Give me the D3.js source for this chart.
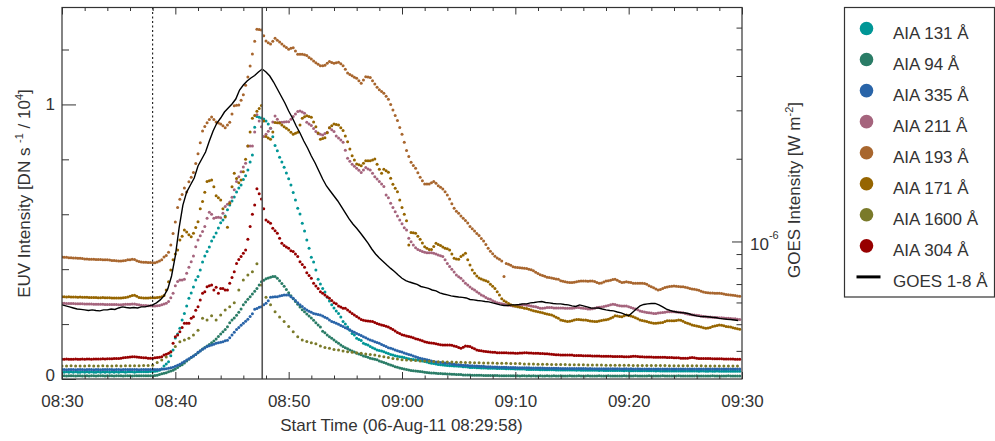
<!DOCTYPE html>
<html><head><meta charset="utf-8">
<script src="https://cdn.jsdelivr.net/npm/d3@7"></script>
<style>
body{margin:0;background:#fff}
svg{display:block}
text{font-family:"Liberation Sans",Arial,Helvetica,sans-serif;fill:#333}
</style>
</head><body>
<svg id="c" width="995" height="441"></svg>
<script>
// ---------------- DATA (EUV in units of 1e4 DN/s, 12 s cadence from 08:30) ----------------
const aia131 = [
.026,.025,.026,.025,.026,.025,.026,.025,.025,.026,
.025,.026,.025,.026,.025,.025,.026,.025,.026,.025,
.026,.025,.026,.025,.026,.025,.026,.026,.025,.026,
.026,.026,.025,.026,.026,.026,.026,.026,.026,.027,
.027,.028,.029,.032,.036,.047,.055,.063,.085,.106,
.149,.164,.185,.215,.239,.266,.294,.313,.335,.361,
.373,.397,.426,.448,.464,.481,.503,.517,.532,.550,
.569,.579,.594,.616,.634,.648,.663,.681,.696,.707,
.727,.740,.761,.790,.816,.917,.956,.953,.951,.947,
.940,.929,.913,.882,.850,.831,.808,.790,.771,.750,
.729,.707,.679,.652,.622,.601,.567,.539,.506,.476,
.443,.426,.397,.363,.346,.330,.317,.298,.284,.270,
.259,.248,.239,.226,.209,.200,.189,.178,.166,.160,
.148,.144,.140,.130,.127,.124,.118,.114,.110,.106,
.104,.102,.099,.096,.093,.089,.087,.085,.083,.081,
.080,.078,.076,.074,.072,.071,.070,.069,.067,.066,
.064,.062,.059,.057,.056,.055,.053,.052,.051,.050,
.049,.048,.048,.047,.047,.046,.046,.045,.045,.044,
.042,.042,.042,.041,.041,.040,.040,.040,.039,.039,
.039,.039,.038,.038,.038,.038,.037,.037,.037,.037,
.036,.036,.036,.036,.036,.035,.035,.035,.035,.035,
.035,.034,.034,.034,.034,.034,.034,.034,.033,.033,
.033,.033,.033,.033,.033,.033,.033,.032,.033,.032,
.032,.032,.032,.032,.032,.032,.032,.031,.032,.031,
.031,.031,.031,.031,.031,.031,.031,.031,.030,.031,
.030,.030,.030,.030,.030,.030,.030,.030,.030,.030,
.030,.030,.029,.030,.029,.029,.029,.029,.029,.029,
.029,.029,.029,.029,.029,.029,.029,.029,.029,.029,
.029,.028,.029,.029,.028,.028,.029,.028,.028,.029,
.028,.028,.028,.028,.028,.028,.028,.028,.028,.028];

const aia94 = [
.012,.012,.011,.012,.012,.012,.011,.012,.012,.011,
.012,.012,.011,.012,.012,.011,.012,.012,.012,.011,
.012,.012,.012,.011,.012,.012,.012,.011,.012,.012,
.012,.011,.012,.012,.012,.012,.012,.012,.012,.012,
.012,.013,.014,.016,.019,.021,.023,.026,.029,.032,
.036,.042,.048,.052,.058,.066,.072,.078,.084,.089,
.096,.103,.109,.115,.120,.126,.132,.138,.146,.155,
.164,.172,.180,.190,.205,.215,.222,.232,.243,.255,
.270,.280,.290,.300,.310,.320,.330,.342,.354,.360,
.365,.368,.371,.373,.373,.367,.358,.348,.338,.326,
.314,.303,.292,.282,.272,.262,.252,.245,.237,.229,
.222,.214,.205,.197,.189,.174,.168,.160,.154,.148,
.142,.136,.130,.124,.118,.114,.110,.106,.102,.098,
.094,.091,.088,.084,.082,.079,.076,.074,.072,.070,
.066,.063,.060,.057,.054,.051,.048,.045,.043,.040,
.038,.036,.035,.033,.031,.030,.029,.028,.027,.026,
.025,.024,.023,.022,.022,.021,.020,.020,.019,.019,
.018,.018,.017,.017,.016,.016,.016,.015,.015,.015,
.015,.014,.014,.014,.014,.014,.013,.013,.013,.013,
.013,.013,.013,.012,.012,.012,.012,.012,.012,.012,
.012,.012,.011,.012,.012,.011,.012,.011,.012,.011,
.011,.012,.011,.011,.012,.011,.011,.012,.011,.011,
.012,.011,.011,.011,.012,.011,.011,.011,.012,.011,
.011,.011,.012,.011,.011,.011,.011,.012,.011,.011,
.011,.012,.011,.011,.011,.011,.011,.011,.012,.011,
.011,.011,.011,.012,.011,.011,.011,.011,.011,.012,
.011,.011,.011,.011,.011,.012,.011,.011,.011,.011,
.011,.011,.012,.011,.011,.011,.011,.011,.011,.011,
.012,.011,.011,.011,.011,.011,.011,.012,.011,.011,
.011,.011,.011,.011,.012,.011,.011,.011,.011,.011];

const aia335 = [
.035,.035,.034,.035,.035,.035,.034,.035,.035,.035,
.034,.035,.035,.035,.034,.035,.035,.034,.035,.035,
.035,.035,.035,.034,.035,.035,.034,.035,.035,.035,
.035,.035,.035,.035,.034,.035,.035,.035,.035,.035,
.035,.035,.035,.035,.036,.036,.037,.039,.041,.043,
.046,.050,.054,.059,.064,.069,.074,.079,.084,.089,
.097,.102,.108,.113,.118,.121,.124,.127,.130,.132,
.134,.136,.139,.141,.150,.160,.170,.180,.188,.196,
.203,.210,.218,.228,.238,.254,.257,.261,.263,.270,
.276,.285,.298,.299,.300,.300,.302,.304,.306,.306,
.306,.300,.294,.286,.278,.270,.264,.257,.251,.247,
.243,.239,.237,.235,.233,.229,.225,.221,.215,.209,
.207,.203,.199,.195,.191,.187,.183,.179,.174,.170,
.166,.162,.158,.154,.150,.146,.142,.139,.136,.133,
.130,.126,.122,.118,.114,.112,.109,.106,.103,.100,
.098,.095,.092,.089,.087,.084,.081,.078,.076,.074,
.072,.070,.068,.066,.064,.062,.061,.060,.059,.058,
.057,.056,.055,.054,.053,.052,.051,.050,.050,.049,
.048,.048,.047,.047,.046,.046,.046,.045,.045,.045,
.044,.044,.044,.043,.043,.043,.043,.042,.042,.042,
.042,.041,.041,.041,.041,.041,.041,.040,.040,.040,
.040,.040,.040,.039,.039,.039,.039,.039,.039,.039,
.038,.038,.038,.038,.038,.038,.038,.038,.038,.038,
.038,.038,.037,.038,.037,.037,.037,.037,.037,.037,
.037,.037,.037,.037,.037,.037,.037,.036,.037,.037,
.036,.037,.036,.036,.037,.036,.036,.036,.036,.036,
.036,.036,.036,.036,.036,.036,.036,.036,.036,.036,
.036,.036,.036,.036,.036,.036,.036,.036,.036,.036,
.036,.036,.036,.036,.036,.036,.036,.036,.036,.036,
.036,.036,.036,.036,.036,.036,.036,.036,.036,.036];

const aia211 = [
.276,.276,.275,.275,.275,.275,.274,.274,.274,.274,
.273,.273,.273,.273,.272,.272,.272,.272,.272,.271,
.271,.271,.271,.271,.271,.270,.270,.271,.272,.272,
.272,.273,.273,.271,.270,.269,.268,.268,.267,.267,
.266,.266,.267,.268,.270,.273,.276,.282,.296,.312,
.340,.355,.361,.361,.363,.385,.407,.427,.448,.482,
.506,.522,.537,.555,.585,.607,.600,.585,.588,.589,
.587,.604,.628,.636,.645,.662,.689,.719,.737,.755,
.772,.786,.849,.849,.849,.900,.962,.940,.919,.883,
.891,.902,.913,.936,.958,.946,.935,.935,.936,.937,
.937,.946,.956,.965,.974,.976,.972,.968,.935,.929,
.923,.912,.901,.893,.891,.889,.894,.899,.915,.908,
.901,.885,.878,.870,.862,.833,.804,.793,.782,.775,
.768,.760,.752,.761,.770,.765,.761,.749,.737,.728,
.719,.710,.701,.670,.660,.640,.625,.609,.594,.579,
.565,.551,.543,.513,.500,.488,.478,.472,.468,.464,
.462,.460,.460,.460,.458,.455,.452,.449,.446,.434,
.421,.410,.400,.390,.379,.372,.367,.358,.349,.342,
.335,.329,.324,.318,.312,.306,.302,.297,.292,.290,
.285,.281,.278,.276,.274,.272,.270,.269,.268,.266,
.267,.268,.269,.270,.270,.269,.268,.266,.264,.263,
.260,.258,.258,.259,.260,.260,.260,.259,.259,.259,
.259,.259,.258,.258,.258,.258,.259,.260,.260,.259,
.258,.257,.255,.255,.256,.258,.260,.261,.262,.264,
.266,.268,.270,.272,.271,.269,.267,.266,.266,.266,
.263,.260,.258,.255,.252,.248,.246,.244,.242,.241,
.240,.239,.239,.240,.241,.242,.243,.245,.245,.245,
.245,.244,.243,.242,.241,.239,.237,.235,.234,.233,
.232,.231,.229,.228,.227,.226,.226,.225,.224,.224,
.223,.223,.222,.221,.221,.220,.219,.219,.218,.217];

const aia193 = [
.444,.443,.443,.442,.442,.441,.441,.440,.440,.439,
.437,.437,.436,.436,.436,.435,.435,.435,.434,.434,
.434,.433,.432,.432,.431,.430,.430,.431,.432,.434,
.434,.436,.435,.431,.428,.426,.425,.425,.424,.424,
.423,.423,.426,.430,.434,.444,.450,.462,.488,.530,
.572,.625,.655,.672,.696,.681,.718,.735,.752,.785,
.820,.860,.903,.920,.933,.945,.954,.945,.936,.932,
.929,.922,.915,.925,.935,.965,.995,.997,.998,1.015,
1.035,1.070,1.100,1.140,1.184,1.230,1.274,1.273,1.271,1.250,
1.231,1.225,1.220,1.230,1.241,1.234,1.227,1.220,1.213,1.207,
1.201,1.205,1.206,1.195,1.183,1.183,1.183,1.181,1.178,1.171,
1.165,1.158,1.152,1.146,1.141,1.141,1.143,1.150,1.156,1.153,
1.150,1.152,1.154,1.148,1.141,1.128,1.114,1.109,1.104,1.099,
1.095,1.086,1.077,1.089,1.101,1.100,1.098,1.086,1.074,1.063,
1.053,1.047,1.041,1.030,1.019,1.000,.980,.960,.941,.916,
.891,.862,.832,.810,.789,.778,.768,.751,.735,.722,
.710,.710,.710,.715,.719,.713,.704,.698,.692,.682,
.670,.656,.638,.622,.611,.604,.594,.585,.577,.568,
.555,.547,.539,.530,.523,.512,.503,.490,.476,.465,
.456,.447,.441,.436,.430,.373,.421,.418,.414,.409,
.407,.406,.405,.404,.403,.402,.400,.398,.394,.389,
.384,.380,.377,.374,.371,.370,.368,.366,.364,.363,
.358,.356,.354,.352,.351,.351,.352,.354,.356,.357,
.357,.357,.356,.357,.357,.355,.351,.349,.350,.353,
.357,.358,.360,.362,.363,.360,.355,.351,.352,.354,
.352,.351,.349,.349,.349,.349,.349,.348,.345,.340,
.336,.332,.328,.324,.326,.330,.333,.335,.337,.338,
.339,.338,.337,.336,.336,.334,.332,.330,.328,.327,
.325,.323,.320,.317,.315,.314,.313,.313,.312,.312,
.312,.311,.310,.308,.307,.306,.305,.304,.302,.301];

const aia171 = [
.300,.300,.299,.300,.299,.299,.299,.298,.299,.298,
.298,.298,.297,.297,.297,.297,.296,.296,.297,.296,
.296,.296,.295,.295,.295,.295,.295,.296,.297,.299,
.301,.304,.305,.301,.297,.296,.295,.295,.295,.296,
.296,.296,.297,.298,.300,.304,.324,.354,.397,.434,
.455,.470,.506,.520,.543,.535,.525,.518,.531,.552,
.573,.620,.646,.680,.719,.722,.725,.700,.667,.660,
.652,.620,.590,.553,.640,.700,.749,.730,.715,.725,
.755,.800,.849,.900,.950,.960,.975,.985,.996,.940,
.883,.878,.873,.900,.934,.933,.932,.925,.919,.913,
.907,.899,.891,.895,.899,.925,.950,.955,.959,.956,
.953,.936,.919,.896,.873,.876,.879,.897,.915,.922,
.929,.927,.925,.915,.905,.885,.864,.838,.813,.798,
.783,.780,.777,.786,.795,.795,.795,.798,.801,.782,
.764,.749,.764,.758,.753,.731,.709,.695,.682,.652,
.625,.600,.576,.488,.534,.533,.531,.520,.509,.495,
.482,.476,.472,.472,.483,.494,.490,.486,.481,.476,
.474,.470,.455,.440,.437,.436,.446,.452,.458,.434,
.415,.397,.385,.375,.368,.364,.361,.358,.354,.345,
.338,.330,.318,.306,.292,.285,.280,.275,.270,.268,
.265,.263,.261,.260,.258,.257,.254,.251,.249,.247,
.245,.243,.241,.239,.237,.235,.233,.229,.225,.221,
.215,.213,.211,.209,.210,.212,.215,.217,.217,.216,
.215,.215,.213,.211,.210,.209,.209,.211,.213,.215,
.216,.218,.221,.225,.230,.229,.228,.227,.230,.233,
.231,.229,.227,.223,.219,.215,.213,.211,.209,.207,
.205,.203,.203,.204,.205,.206,.209,.212,.212,.212,
.212,.213,.215,.214,.210,.206,.203,.200,.197,.195,
.193,.191,.189,.187,.185,.186,.188,.191,.193,.195,
.197,.196,.194,.191,.190,.189,.187,.185,.183,.181];

// AIA 1600, 24 s cadence
const aia1600 = [
.047,.047,.048,.047,.047,.047,.048,.047,.047,.048,
.047,.047,.048,.047,.048,.048,.048,.048,.049,.049,
.050,.060,.069,.080,.098,.118,.136,.142,.148,.160,
.178,.221,.215,.230,.215,.233,.251,.263,.278,.324,
.361,.379,.391,.420,.342,.298,.270,.245,.226,.209,
.191,.172,.154,.142,.137,.132,.128,.120,.115,.112,
.107,.106,.102,.099,.097,.096,.094,.091,.089,.087,
.084,.081,.078,.075,.073,.070,.069,.068,.067,.066,
.066,.065,.064,.063,.063,.062,.062,.061,.061,.060,
.060,.059,.059,.058,.058,.058,.057,.057,.057,.056,
.056,.056,.055,.055,.055,.054,.054,.054,.053,.053,
.053,.053,.052,.052,.052,.052,.051,.051,.051,.051,
.050,.050,.050,.050,.050,.050,.049,.049,.049,.049,
.049,.049,.049,.049,.048,.048,.048,.048,.048,.048,
.048,.048,.047,.047,.047,.047,.047,.047,.047,.047];

const aia304 = [
.072,.072,.073,.072,.072,.072,.073,.072,.072,.073,
.072,.073,.073,.072,.073,.073,.073,.073,.074,.073,
.074,.074,.074,.075,.075,.075,.076,.077,.078,.079,
.080,.081,.081,.080,.079,.078,.077,.077,.076,.076,
.076,.077,.078,.079,.081,.087,.090,.094,.099,.130,
.154,.160,.172,.188,.203,.203,.203,.221,.227,.250,
.263,.288,.312,.318,.336,.340,.342,.324,.334,.312,
.330,.330,.324,.324,.349,.370,.391,.421,.435,.446,
.458,.470,.509,.555,.600,.634,.693,.675,.656,.620,
.579,.573,.567,.549,.540,.531,.513,.494,.486,.481,
.476,.467,.464,.455,.446,.427,.417,.407,.387,.377,
.367,.349,.339,.330,.318,.312,.306,.300,.294,.286,
.278,.274,.266,.262,.258,.258,.251,.245,.239,.233,
.228,.222,.217,.214,.212,.211,.210,.209,.206,.202,
.199,.197,.195,.192,.189,.185,.180,.175,.169,.166,
.161,.159,.157,.155,.153,.150,.147,.145,.142,.139,
.136,.134,.132,.131,.130,.128,.127,.125,.124,.124,
.124,.124,.123,.120,.118,.115,.112,.116,.120,.119,
.118,.114,.110,.106,.104,.103,.101,.100,.099,.098,
.097,.097,.096,.096,.096,.096,.096,.095,.095,.095,
.094,.094,.095,.095,.096,.096,.095,.095,.094,.094,
.094,.093,.093,.092,.092,.091,.090,.089,.088,.088,
.087,.087,.087,.087,.087,.087,.086,.086,.086,.086,
.085,.085,.085,.085,.084,.084,.084,.084,.083,.083,
.083,.083,.083,.082,.082,.082,.082,.082,.081,.081,
.081,.082,.083,.083,.082,.081,.081,.080,.080,.080,
.080,.079,.079,.079,.079,.079,.079,.078,.078,.078,
.077,.077,.077,.076,.076,.076,.076,.077,.078,.077,
.076,.075,.075,.075,.075,.075,.075,.074,.074,.074,
.074,.074,.073,.073,.073,.073,.073,.072,.072,.072];

// GOES 1-8 A flux in units of 1e-7 W m^-2, 20 s cadence from 08:30
const goesE7 = [
5.88,5.83,5.78,5.73,5.68,5.66,5.64,5.61,5.64,5.61,
5.59,5.64,5.64,5.68,5.66,5.73,5.78,5.75,5.73,5.75,
5.73,5.78,5.78,5.83,5.88,5.98,6.13,6.34,6.72,7.49,
8.86,11.20,13.57,15.13,16.05,17.02,18.82,19.96,21.16,23.20,
25.23,26.98,28.13,29.58,30.59,31.63,32.98,35.56,37.08,38.35,
39.33,40.15,41.35,42.40,41.35,39.99,38.03,35.86,33.82,31.90,
29.82,28.13,26.30,24.81,23.20,21.88,20.46,19.30,18.05,16.87,
15.92,15.26,14.64,14.04,13.35,12.70,12.08,11.58,11.17,10.74,
10.30,9.87,9.39,9.01,8.71,8.46,8.21,7.98,7.78,7.55,
7.35,7.21,7.12,7.05,6.98,6.86,6.81,6.75,6.66,6.61,
6.50,6.44,6.39,6.34,6.31,6.28,6.26,6.23,6.15,6.13,
6.10,6.08,6.05,6.03,5.98,5.93,5.88,5.85,5.85,5.88,
5.88,5.90,5.93,5.93,5.98,6.00,6.03,6.05,6.00,5.98,
5.95,5.93,5.93,5.90,5.88,5.83,5.80,5.88,5.83,5.78,
5.73,5.72,5.73,5.68,5.64,5.61,5.59,5.54,5.50,5.43,
5.37,5.52,5.68,5.83,5.90,5.93,5.95,5.95,5.88,5.78,
5.67,5.61,5.56,5.53,5.51,5.49,5.46,5.40,5.36,5.33,
5.34,5.32,5.30,5.29,5.25,5.23,5.21,5.20,5.18,5.16];

const legendLabels = ["AIA 131 Å","AIA 94 Å","AIA 335 Å","AIA 211 Å","AIA 193 Å","AIA 171 Å","AIA 1600 Å","AIA 304 Å","GOES 1-8 Å"];
const cadences = [12,12,12,12,12,12,24,12]; // seconds
const xTickLabels = ["08:30","08:40","08:50","09:00","09:10","09:20","09:30"];
const yLeftMajor = [0,1];
const yLeftMinor = [0.2,0.4,0.6,0.8,1.2];
const yRightMajor = [1e-6];
const yRightMinor = [4e-7,5e-7,6e-7,7e-7,8e-7,9e-7,2e-6,3e-6,4e-6,5e-6,6e-6];
const markerTimes = {dotted:"08:38:00", solid:"08:47:40"};
const xTitle = "Start Time (06-Aug-11 08:29:58)";
const goesCadence = 20;

// ---------------- STYLE ----------------
const seriesColors = ["#009696","#2a7c66","#2964a8","#a5647d","#a8662e","#966500","#7a7a2a","#970000"];
const euvSeries = [aia131,aia94,aia335,aia211,aia193,aia171,aia1600,aia304];

// ---------------- CHART ----------------
const svg = d3.select("#c");
const L=62, R=742, T=7.5, B=379;
const t0 = Date.UTC(2011,7,6,8,30,0);
const toDate = s => { const p=s.split(":").map(Number); return new Date(Date.UTC(2011,7,6,p[0],p[1],p[2]||0)); };
const x = d3.scaleUtc().domain([new Date(t0), new Date(t0+3600e3)]).range([L,R]);
const yL = d3.scaleLinear().domain([0,1.353]).range([B,T]);
const yR = d3.scaleLog().domain([3.16e-7,7.1e-6]).range([B,T]);

svg.append("defs").append("clipPath").attr("id","clip")
  .append("rect").attr("x",L).attr("y",T).attr("width",R-L).attr("height",B-T);

const plot = svg.append("g").attr("clip-path","url(#clip)");
euvSeries.forEach((arr,k)=>{
  plot.append("g").selectAll("circle").data(arr).join("circle")
    .attr("cx",(d,i)=>x(new Date(t0+i*cadences[k]*1000)))
    .attr("cy",d=>yL(d))
    .attr("r",1.5)
    .attr("fill",seriesColors[k]);
});
plot.append("path").datum(goesE7)
  .attr("fill","none").attr("stroke","#000").attr("stroke-width",1.4)
  .attr("d", d3.line().x((d,i)=>x(new Date(t0+i*goesCadence*1000))).y(d=>yR(d*1e-7)));

// vertical markers
svg.append("line").attr("x1",x(toDate(markerTimes.dotted))).attr("x2",x(toDate(markerTimes.dotted)))
  .attr("y1",T).attr("y2",B).attr("stroke","#000").attr("stroke-width",1).attr("stroke-dasharray","2,2.5");
svg.append("line").attr("x1",x(toDate(markerTimes.solid))).attr("x2",x(toDate(markerTimes.solid)))
  .attr("y1",T).attr("y2",B).attr("stroke","#555").attr("stroke-width",1.6);

// axes
const majorTimes = xTickLabels.map(toDate);
const minorTimes = d3.utcMinute.every(2).range(new Date(t0), new Date(t0+3600e3+1)).filter(d=>d.getUTCMinutes()%10!==0);
function styleAxis(g){ g.select(".domain").remove(); g.attr("color","#333").attr("font-family",null).attr("font-size",17);
  g.selectAll("text").attr("fill","#333"); g.selectAll("line").attr("stroke-width",1); }

svg.append("g").attr("transform",`translate(0,${B})`)
  .call(d3.axisBottom(x).tickValues(majorTimes).tickSize(-7).tickPadding(16).tickFormat(d3.utcFormat("%H:%M"))).call(styleAxis);
svg.append("g").attr("transform",`translate(0,${B})`)
  .call(d3.axisBottom(x).tickValues(minorTimes).tickSize(-3.5).tickFormat("")).call(styleAxis);
svg.append("g").attr("transform",`translate(0,${T})`)
  .call(d3.axisTop(x).tickValues(majorTimes).tickSize(-7).tickFormat("")).call(styleAxis);
svg.append("g").attr("transform",`translate(0,${T})`)
  .call(d3.axisTop(x).tickValues(minorTimes).tickSize(-3.5).tickFormat("")).call(styleAxis);

const gl = svg.append("g").attr("transform",`translate(${L},0)`)
  .call(d3.axisLeft(yL).tickValues(yLeftMajor).tickSize(-14).tickPadding(7).tickFormat(d3.format("d"))).call(styleAxis);
gl.selectAll(".tick text").filter(d=>d===0).attr("dy","0.06em");
svg.append("g").attr("transform",`translate(${L},0)`)
  .call(d3.axisLeft(yL).tickValues(yLeftMinor).tickSize(-7).tickFormat("")).call(styleAxis);

svg.append("g").attr("transform",`translate(${R},0)`)
  .call(d3.axisRight(yR).tickValues(yRightMajor).tickSize(-10).tickFormat("")).call(styleAxis);
svg.append("g").attr("transform",`translate(${R},0)`)
  .call(d3.axisRight(yR).tickValues(yRightMinor).tickSize(-5.5).tickFormat("")).call(styleAxis);
const lab6 = svg.append("text").attr("x",R+8).attr("y",yR(1e-6)+8.5).attr("font-size",17);
lab6.append("tspan").text("10");
lab6.append("tspan").attr("font-size",11).attr("dy",-11).text("-6");

// frame
svg.append("rect").attr("x",L).attr("y",T).attr("width",R-L).attr("height",B-T)
  .attr("fill","none").attr("stroke","#333").attr("stroke-width",1.2);

// titles
svg.append("text").attr("x",401.5).attr("y",431).attr("text-anchor","middle").attr("font-size",17).text(xTitle);

const tl = svg.append("text").attr("transform","translate(29.5,193.5) rotate(-90)").attr("text-anchor","middle").attr("font-size",17);
tl.append("tspan").text("EUV Intensity [DN s ");
tl.append("tspan").attr("font-size",11).attr("dy",-7).text("-1");
tl.append("tspan").attr("dy",7).text(" / 10");
tl.append("tspan").attr("font-size",11).attr("dy",-7).text("4");
tl.append("tspan").attr("dy",7).text("]");

const tr = svg.append("text").attr("transform","translate(800,190) rotate(-90)").attr("text-anchor","middle").attr("font-size",17);
tr.append("tspan").text("GOES Intensity [W m");
tr.append("tspan").attr("font-size",11).attr("dy",-7).text("-2");
tr.append("tspan").attr("dy",7).text("]");

// legend
const lg = svg.append("g");
lg.append("rect").attr("x",844.5).attr("y",7.5).attr("width",150).attr("height",289.5)
  .attr("fill","#fff").attr("stroke","#333").attr("stroke-width",1.2);
legendLabels.forEach((lab,i)=>{
  const cy = 28.5 + i*31.05;
  if(i<8){
    lg.append("circle").attr("cx",866.5).attr("cy",cy).attr("r",6.8).attr("fill",seriesColors[i]);
  } else {
    lg.append("line").attr("x1",856.5).attr("x2",880.5).attr("y1",cy).attr("y2",cy).attr("stroke","#000").attr("stroke-width",3);
  }
  lg.append("text").attr("x",893).attr("y",cy+10.5).attr("font-size",17).attr("fill","#222").text(lab);
});
</script>
</body></html>
